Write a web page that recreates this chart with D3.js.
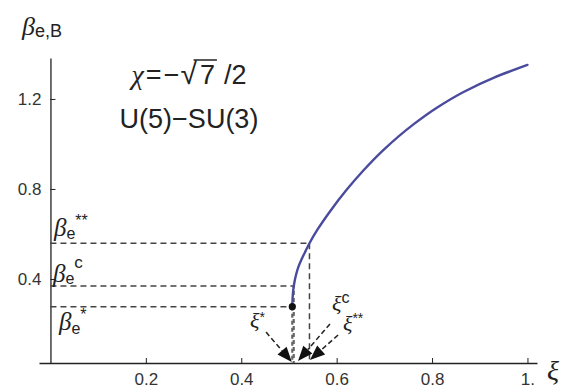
<!DOCTYPE html>
<html><head><meta charset="utf-8">
<script src="https://cdn.jsdelivr.net/npm/d3@7"></script>
<style>body{margin:0;background:#fff}svg{display:block}</style>
</head><body><svg id="chart" width="562" height="392"></svg>
<script>
// Order parameter beta_e,B versus control parameter xi along the U(5)-SU(3) path
const xi   = [0.507, 0.5075, 0.509, 0.511, 0.515, 0.520, 0.527, 0.535, 0.543, 0.560, 0.586, 0.620, 0.656, 0.700, 0.761, 0.810, 0.865, 0.930, 1.000];
const beta = [0.277, 0.310, 0.350, 0.380, 0.420, 0.455, 0.490, 0.525, 0.559, 0.620, 0.700, 0.794, 0.882, 0.977, 1.087, 1.161, 1.230, 1.295, 1.351];

const xTicks = [0.2, 0.4, 0.6, 0.8, 1.0];
const xTickLabels = ["0.2", "0.4", "0.6", "0.8", "1."];
const yTicks = [0.4, 0.8, 1.2];
const yTickLabels = ["0.4", "0.8", "1.2"];

// special points on the curve: *, c, **
const pointNames = ["*", "c", "**"];
const pointXi = [0.507, 0.510, 0.543];
const pointBeta = [0.277, 0.369, 0.559];

const SERIF = "'Liberation Serif', 'DejaVu Serif', serif";
const SANS = "'Liberation Sans', Arial, sans-serif";

const svg = d3.select("#chart");
svg.append("rect").attr("width", 562).attr("height", 392).attr("fill", "#fff");

const x = d3.scaleLinear().domain([-0.024, 1.02]).range([39, 537]);
const y = d3.scaleLinear().domain([0.0267, 1.382]).range([363, 58]);
const yBase = y.domain()[0];

// axes
const gx = svg.append("g")
  .attr("transform", `translate(0,${y(yBase)})`)
  .call(d3.axisBottom(x).tickValues(xTicks).tickFormat((d, i) => xTickLabels[i])
    .tickSize(-5).tickSizeOuter(0).tickPadding(10));
const gy = svg.append("g")
  .attr("transform", `translate(${x(0)},0)`)
  .call(d3.axisLeft(y).tickValues(yTicks).tickFormat((d, i) => yTickLabels[i])
    .tickSize(-5).tickSizeOuter(0).tickPadding(9));
[gx, gy].forEach(g => {
  g.attr("font-family", SANS).attr("font-size", 17);
  g.select(".domain").attr("stroke", "#222").attr("stroke-width", 1.3);
  g.selectAll(".tick line").attr("stroke", "#222").attr("stroke-width", 1);
  g.selectAll(".tick text").attr("fill", "#333");
});

// dashed guides from the axes to the special points
const guides = svg.append("g").attr("stroke", "#444").attr("stroke-width", 1.5)
  .attr("stroke-dasharray", "6,4").attr("fill", "none");
pointXi.forEach((px, i) => {
  guides.append("line")
    .attr("x1", x(0)).attr("x2", x(px))
    .attr("y1", y(pointBeta[i])).attr("y2", y(pointBeta[i]));
  guides.append("line")
    .attr("x1", x(px)).attr("x2", x(px))
    .attr("y1", y(pointBeta[i])).attr("y2", y(yBase))
    .attr("stroke", i < 2 ? "#666" : "#444")
    .attr("stroke-width", i < 2 ? 2.2 : 1.5)
    .attr("stroke-dasharray", i < 2 ? "4,3" : "6,4")
    .attr("stroke-dashoffset", i === 1 ? 2 : 0);
});

// the curve
const line = d3.line().x((d, i) => x(xi[i])).y((d, i) => y(beta[i])).curve(d3.curveMonotoneY);
svg.append("path").datum(xi).attr("d", line)
  .attr("fill", "none").attr("stroke", "#4b4b9e").attr("stroke-width", 2.4)
  .attr("stroke-linecap", "round");

svg.append("circle").attr("cx", x(pointXi[0])).attr("cy", y(pointBeta[0])).attr("r", 3.6).attr("fill", "#111");

// arrows from the xi labels down to the axis
const arrows = [
  { from: [0.452, 0.164], to: [0.506, 0.031] },
  { from: [0.586, 0.200], to: [0.519, 0.036] },
  { from: [0.603, 0.151], to: [0.544, 0.040] }
];
const ag = svg.append("g");
arrows.forEach(a => {
  const x1 = x(a.from[0]), y1 = y(a.from[1]), x2 = x(a.to[0]), y2 = y(a.to[1]);
  const dx = x2 - x1, dy = y2 - y1, len = Math.hypot(dx, dy);
  const ux = dx / len, uy = dy / len, head = 15, hw = 6;
  const bx = x2 - ux * head, by = y2 - uy * head;
  ag.append("line").attr("x1", x1).attr("y1", y1).attr("x2", bx).attr("y2", by)
    .attr("stroke", "#222").attr("stroke-width", 1.5).attr("stroke-dasharray", "5,3");
  ag.append("path")
    .attr("d", `M${x2},${y2}L${bx - uy * hw},${by + ux * hw}L${bx + uy * hw},${by - ux * hw}Z`)
    .attr("fill", "#111");
});

// symbol with subscript and superscript
function symbolLabel(px, py, sym, symSize, sub, subSize, subDy, sup, supSize, supDy) {
  const t = svg.append("text").attr("x", px).attr("y", py).attr("fill", "#222");
  t.append("tspan").attr("font-family", SERIF).attr("font-style", "italic").attr("font-size", symSize).text(sym);
  if (sub) t.append("tspan").attr("font-family", SANS).attr("font-size", subSize).attr("dy", subDy).text(sub);
  if (sup) t.append("tspan").attr("font-family", SANS).attr("font-size", supSize).attr("dy", supDy).text(sup);
  return t;
}

// y-axis title
symbolLabel(22, 35, "β", 26, "e,B", 18, 2, null);
// x-axis title
svg.append("text").attr("x", 547).attr("y", 380).attr("font-family", SERIF).attr("font-style", "italic")
  .attr("font-size", 28).attr("fill", "#222").text("ξ");

// beta labels next to the horizontal guides
symbolLabel(54, y(pointBeta[2]) - 7, "β", 25, "e", 16, 3, "**", 16, -13);
symbolLabel(53, y(pointBeta[1]) - 4, "β", 25, "e", 16, 2, "c", 17, -16);
symbolLabel(59, y(pointBeta[0]) + 23, "β", 25, "e", 16, 4, "*", 16, -14);

// xi labels at the arrow tails
symbolLabel(250, 328, "ξ", 22, null, 0, 0, "*", 14, -6);
symbolLabel(332, 311, "ξ", 22, null, 0, 0, "c", 16, -8);
symbolLabel(343, 331, "ξ", 22, null, 0, 0, "**", 14, -8);

// parameter annotation
const cx = 189;
const row1 = svg.append("g").attr("fill", "#222");
const parts = [
  { t: "χ", f: SERIF, s: "italic", size: 28, gap: 2 },
  { t: "=", f: SANS, s: "normal", size: 27, gap: 2 },
  { t: "−", f: SANS, s: "normal", size: 27, gap: 1 },
  { t: "√", f: SANS, s: "normal", size: 30, gap: 3 },
  { t: "7", f: SANS, s: "normal", size: 27, gap: 9 },
  { t: "/2", f: SANS, s: "normal", size: 27, gap: 0 }
];
let cursor = 0;
const nodes = parts.map(p => {
  const n = row1.append("text").attr("y", 84).attr("font-family", p.f).attr("font-style", p.s)
    .attr("font-size", p.size).text(p.t);
  const w = n.node().getComputedTextLength();
  const r = { n, x0: cursor, w };
  cursor += w + p.gap;
  return r;
});
const shift = cx - cursor / 2;
nodes.forEach(r => r.n.attr("x", r.x0 + shift));
const root = nodes[3];
const seven = nodes[4];
row1.append("line")
  .attr("x1", root.x0 + shift + root.w * 0.8).attr("x2", seven.x0 + shift + seven.w + 2)
  .attr("y1", 60).attr("y2", 60).attr("stroke", "#222").attr("stroke-width", 1.5);

svg.append("text").attr("x", cx).attr("y", 128).attr("text-anchor", "middle")
  .attr("font-family", SANS).attr("font-size", 27).attr("fill", "#222").text("U(5)−SU(3)");
</script></body></html>
